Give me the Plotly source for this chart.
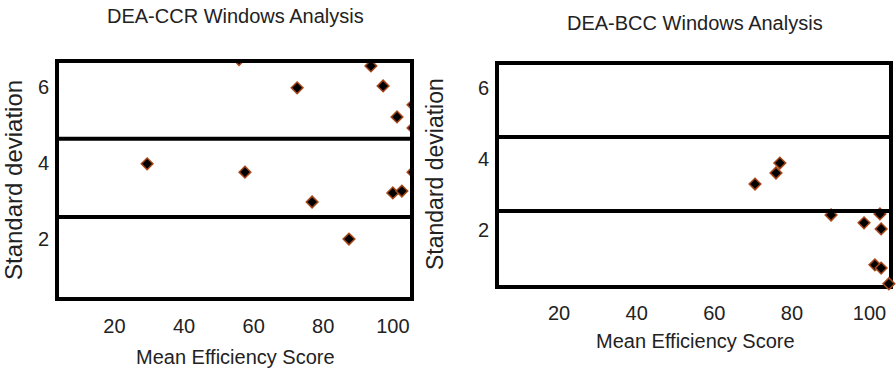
import plotly.graph_objects as go

# ---------------- data ----------------
ccr_mean = [93.7, 97.2, 72.5, 101.2, 29.4, 57.5, 76.8, 100.0, 102.6, 87.4, 55.8, 105.8, 105.8, 105.8]
ccr_sd   = [6.57, 6.04, 5.99, 5.22, 3.98, 3.76, 2.97, 3.21, 3.26, 1.99, 6.74, 5.54, 4.93, 3.76]

bcc_mean = [70.5, 75.9, 76.9, 90.1, 98.6, 102.7, 103.0, 101.4, 103.0, 105.0]
bcc_sd   = [3.30, 3.61, 3.89, 2.43, 2.21, 2.46, 2.04, 1.03, 0.94, 0.50]

x_ticks = [20, 40, 60, 80, 100]
y_ticks = [2, 4, 6]
ccr_bands = [2.57, 4.64]
bcc_bands = [2.54, 4.62]

titles = ["DEA-CCR Windows Analysis", "DEA-BCC Windows Analysis"]
x_title = "Mean Efficiency Score"
y_title = "Standard deviation"

# ---------------- figure ----------------
W, H = 896, 371
SANS = "Liberation Sans, Arial, Helvetica, sans-serif"
TXT = "#222222"

def px_x(p):
    return p / W

def px_y(p):
    return 1 - p / H

marker = dict(symbol="diamond", size=9, color="#000000",
              line=dict(color="#a8481a", width=1.5))

fig = go.Figure()
fig.add_trace(go.Scatter(x=ccr_mean, y=ccr_sd, mode="markers", marker=marker,
                         xaxis="x", yaxis="y", cliponaxis=True, showlegend=False))
fig.add_trace(go.Scatter(x=bcc_mean, y=bcc_sd, mode="markers", marker=marker,
                         xaxis="x2", yaxis="y2", cliponaxis=False, showlegend=False))

axis_common = dict(showline=True, mirror=True, linecolor="black", linewidth=4,
                   showgrid=False, zeroline=False, ticks="",
                   tickfont=dict(family=SANS, size=20, color=TXT))

fig.update_layout(
    width=W, height=H,
    margin=dict(l=0, r=0, t=0, b=0),
    paper_bgcolor="white", plot_bgcolor="white",
    xaxis=dict(domain=[px_x(59), px_x(410)], range=[4.07, 104.93],
               tickvals=x_ticks, anchor="y", ticklabelstandoff=8, **axis_common),
    yaxis=dict(domain=[px_y(297), px_y(63)], range=[0.457, 6.647],
               tickvals=y_ticks, anchor="x", ticklabelstandoff=2, **axis_common),
    xaxis2=dict(domain=[px_x(499), px_x(889)], range=[4.52, 105.03],
                tickvals=x_ticks, anchor="y2", ticklabelstandoff=7,
                layer="below traces", **axis_common),
    yaxis2=dict(domain=[px_y(285), px_y(65)], range=[0.464, 6.644],
                tickvals=y_ticks, anchor="x2", ticklabelstandoff=2,
                layer="below traces", **axis_common),
)

for b in ccr_bands:
    fig.add_shape(type="line", xref="x domain", yref="y", x0=0, x1=1, y0=b, y1=b,
                  line=dict(color="black", width=4))
for b in bcc_bands:
    fig.add_shape(type="line", xref="x2 domain", yref="y2", x0=0, x1=1, y0=b, y1=b,
                  line=dict(color="black", width=4))

ann = []
ann.append(dict(text=titles[0], x=px_x(235), y=px_y(16), font=dict(family=SANS, size=20, color=TXT)))
ann.append(dict(text=titles[1], x=px_x(695), y=px_y(23), font=dict(family=SANS, size=20, color=TXT)))
ann.append(dict(text=x_title, x=px_x(235), y=px_y(357), font=dict(family=SANS, size=20, color=TXT)))
ann.append(dict(text=x_title, x=px_x(695), y=px_y(341), font=dict(family=SANS, size=20, color=TXT)))
ann.append(dict(text=y_title, x=px_x(13), y=px_y(180), textangle=-90, font=dict(family=SANS, size=24, color=TXT)))
ann.append(dict(text=y_title, x=px_x(435), y=px_y(174), textangle=-90, font=dict(family=SANS, size=23, color=TXT)))
for a in ann:
    a.update(xref="paper", yref="paper", xanchor="center", yanchor="middle", showarrow=False)
fig.update_layout(annotations=ann)

fig.write_html("out.html", config={"displayModeBar": False},
               post_script="document.body.style.margin='0';document.body.style.overflow='hidden';")
